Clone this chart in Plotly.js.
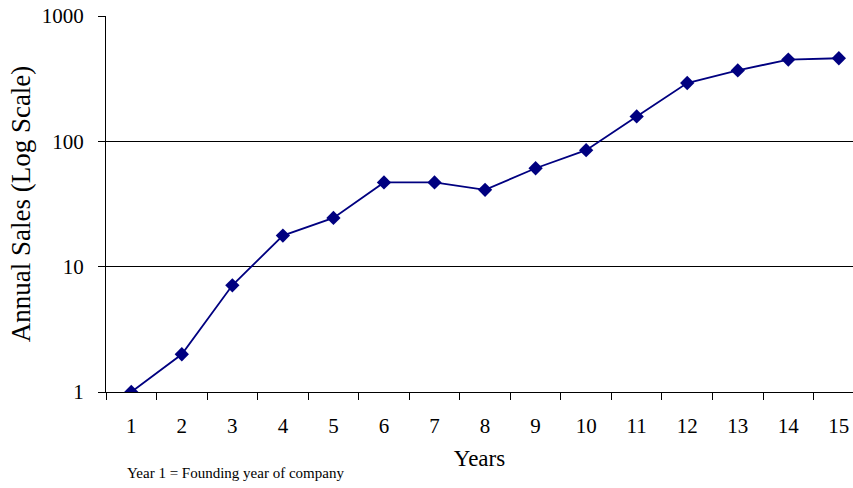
<!DOCTYPE html>
<html>
<head>
<meta charset="utf-8">
<script src="https://cdn.plot.ly/plotly-3.0.1.min.js"></script>
<style>html,body{margin:0;padding:0;background:#fff;}#chart{width:853px;height:488px;}</style>
</head>
<body>
<div id="chart"></div>
<script>
const years = ["1","2","3","4","5","6","7","8","9","10","11","12","13","14","15"];
const sales = [1, 2, 7.1, 17.7, 24.5, 47, 47, 41, 61, 85, 158, 292, 368, 449, 460];
const yTickVals = [1, 10, 100, 1000];
const yTickText = ["1", "10", "100", "1000"];
const note = "Year 1 = Founding year of company";

const FONT = '"Liberation Serif", "Times New Roman", Times, serif';

const trace = {
  x: years,
  y: sales,
  type: 'scatter',
  mode: 'lines+markers',
  line: {color: '#000080', width: 1.8},
  marker: {symbol: 'diamond', size: 11, color: '#000080'},
  hoverinfo: 'x+y'
};

const layout = {
  width: 853,
  height: 488,
  margin: {l: 106, r: 0, t: 16, b: 96},
  paper_bgcolor: '#ffffff',
  plot_bgcolor: '#ffffff',
  showlegend: false,
  font: {family: FONT, color: '#000000', size: 21},
  xaxis: {
    type: 'category',
    range: [-0.5, 14.28],
    tickson: 'boundaries',
    ticks: 'outside',
    ticklen: 7,
    tickcolor: '#000000',
    tickwidth: 1,
    showgrid: false,
    showline: true,
    linecolor: '#000000',
    linewidth: 1,
    ticklabelstandoff: 15,
    tickfont: {family: FONT, size: 21, color: '#000000'},
    title: {text: 'Years', font: {family: FONT, size: 23, color: '#000000'}, standoff: 12},
    fixedrange: true
  },
  yaxis: {
    type: 'log',
    range: [0, 3],
    tickvals: yTickVals,
    ticktext: yTickText,
    ticks: 'outside',
    ticklen: 7,
    tickcolor: '#000000',
    showgrid: true,
    gridcolor: '#000000',
    gridwidth: 1,
    showline: true,
    linecolor: '#000000',
    linewidth: 1,
    zeroline: false,
    ticklabelstandoff: 10,
    tickfont: {family: FONT, size: 21, color: '#000000'},
    title: {text: 'Annual Sales (Log Scale)', font: {family: FONT, size: 27, color: '#000000'}, standoff: 3},
    fixedrange: true
  },
  annotations: [{
    text: note,
    xref: 'paper', yref: 'paper',
    x: (125 - 106) / 747, y: -(473 - 392) / 376,
    xanchor: 'left', yanchor: 'middle',
    showarrow: false,
    font: {family: FONT, size: 15, color: '#000000'}
  }]
};

Plotly.newPlot('chart', [trace], layout, {displayModeBar: false, staticPlot: true});
</script>
</body>
</html>
